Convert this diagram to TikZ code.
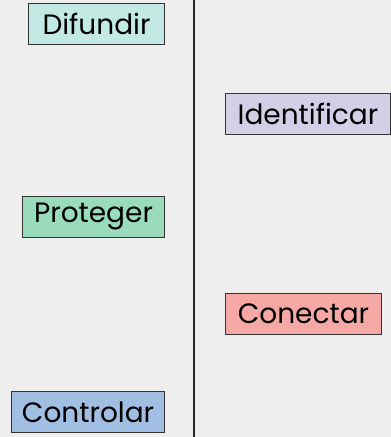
\documentclass[tikz,border=0pt]{standalone}
\usepackage{fontspec}
\setmainfont{Poppins}
\begin{document}
\begin{tikzpicture}[x=1pt,y=1pt,
  lbl/.style={draw=black!80, line width=0.9pt, minimum height=41pt, inner sep=0pt, font=\fontsize{28}{32}\selectfont, text=black},
  ]
\definecolor{bg}{HTML}{EEEEEE}
\definecolor{cDif}{HTML}{C3E9E4}
\definecolor{cIde}{HTML}{D5CEE7}
\definecolor{cPro}{HTML}{9ADBBB}
\definecolor{cCon}{HTML}{F6A9A4}
\definecolor{cCtl}{HTML}{A1BFE3}
\fill[bg] (0,0) rectangle (391,437);
\useasboundingbox (0,0) rectangle (391,437);
\coordinate (top) at (194,437);
\coordinate (bot) at (194,0);
\draw[black!85, line width=1.1pt] (top) -- (bot);
\node[lbl, fill=cDif, minimum width=136pt, anchor=east] (dif) at (165,413.5) {Difundir};
\node[lbl, fill=cIde, minimum width=165pt, anchor=west] (ide) at (225,323.5) {Identificar};
\node[lbl, fill=cPro, minimum width=142pt, anchor=east] (pro) at (165,220) {Proteger};
\node[lbl, fill=cCon, minimum width=156pt, anchor=west] (con) at (225,123.5) {Conectar};
\node[lbl, fill=cCtl, minimum width=153pt, anchor=east] (ctl) at (165,25) {Controlar};
\end{tikzpicture}
\end{document}
